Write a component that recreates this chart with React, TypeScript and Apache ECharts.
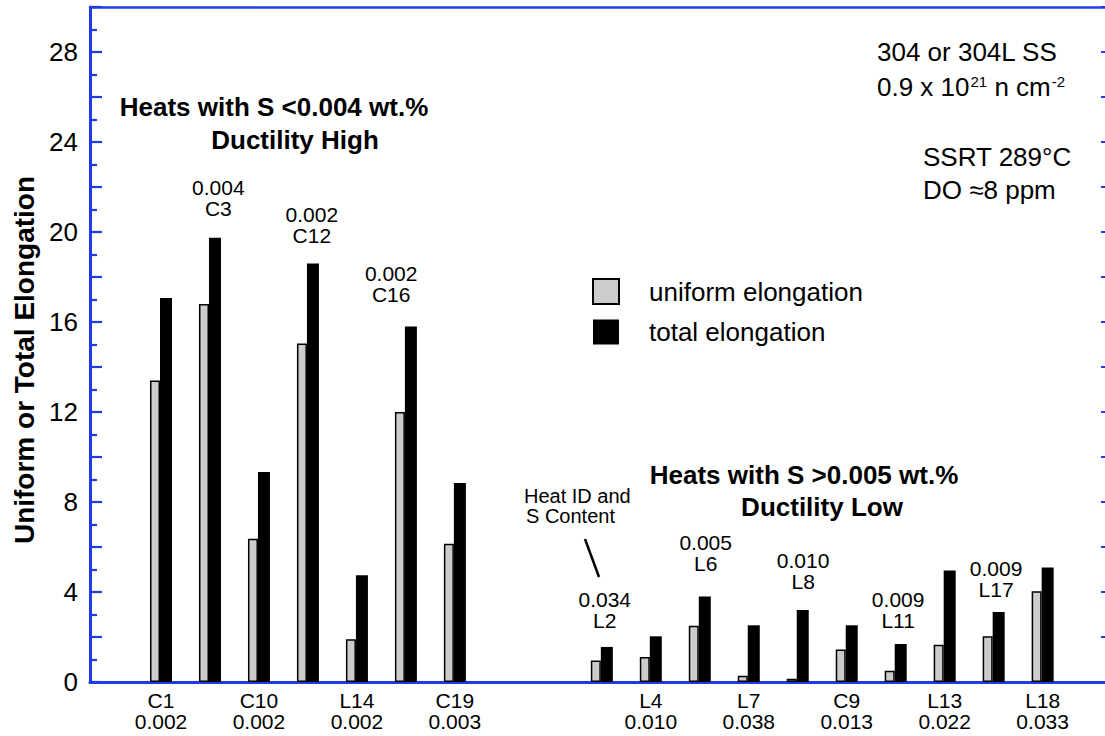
import React, { useEffect, useRef } from 'react';
import * as echarts from 'echarts';

const FONT = '"Liberation Sans", Arial, Helvetica, sans-serif';
const BLUE = '#1e3ce6';

// heat IDs, their slot along the x axis, S content (wt.%)
const heats = ['C1', 'C3', 'C10', 'C12', 'L14', 'C16', 'C19', 'L2', 'L4', 'L6', 'L7', 'L8', 'C9', 'L11', 'L13', 'L17', 'L18'];
const slots = [0, 1, 2, 3, 4, 5, 6, 9, 10, 11, 12, 13, 14, 15, 16, 17, 18];
const sulfur = ['0.002', '0.004', '0.002', '0.002', '0.002', '0.002', '0.003', '0.034', '0.010', '0.005', '0.038', '0.010', '0.013', '0.009', '0.022', '0.009', '0.033'];

// elongation values (%)
const uniformElong = [13.4, 16.8, 6.37, 15.05, 1.9, 12.0, 6.15, 0.96, 1.11, 2.5, 0.28, 0.15, 1.44, 0.5, 1.66, 2.03, 4.03];
const totalElong = [17.07, 19.75, 9.33, 18.6, 4.75, 15.8, 8.85, 1.56, 2.03, 3.8, 2.52, 3.2, 2.52, 1.69, 4.96, 3.11, 5.09];

// heats labelled under the axis, and heats labelled above their bars
const axisLabelHeats = ['C1', 'C10', 'L14', 'C19', 'L4', 'L7', 'C9', 'L13', 'L18'];
const annotHeats = ['C3', 'C12', 'C16', 'L2', 'L6', 'L8', 'L11', 'L17'];
const annotLevels = [21.5, 20.3, 17.7, 3.2, 5.75, 4.93, 3.2, 4.58];
const annotShift = [0.17, 0.08, -0.3, 0.06, 0.12, 0.11, 0.05, 0.05];

const Y_MIN = 0;
const Y_MAX = 30;
const X_MIN = -1.4496;
const X_MAX = 19.273;

export default function App() {
  const ref = useRef<HTMLDivElement>(null);

  useEffect(() => {
    if (!ref.current) return;
    const chart = echarts.init(ref.current, undefined, { renderer: 'svg' });

    const labelValues = axisLabelHeats.map((h) => slots[heats.indexOf(h)]);

    const option: any = {
      animation: false,
      backgroundColor: '#ffffff',
      textStyle: { fontFamily: FONT },
      grid: { left: 90, right: 0, top: 7, bottom: 54, containLabel: false, outerBoundsMode: 'none' },
      legend: {
        orient: 'vertical',
        left: 592,
        top: 278,
        padding: 0,
        itemWidth: 26,
        itemHeight: 25,
        itemGap: 14,
        icon: 'rect',
        selectedMode: false,
        textStyle: { fontSize: 26, fontFamily: FONT, color: '#000', padding: [0, 0, 0, 25] },
        data: [
          { name: 'uniform elongation', itemStyle: { color: '#cccccc', borderColor: '#000', borderWidth: 2 } },
          { name: 'total elongation', itemStyle: { color: '#000', borderWidth: 0 } },
        ],
      },
      xAxis: [
        {
          type: 'value',
          min: X_MIN,
          max: X_MAX,
          axisLine: { show: true, onZero: false, lineStyle: { color: BLUE, width: 3 } },
          axisTick: { show: false },
          splitLine: { show: false },
          axisLabel: {
            customValues: labelValues,
            margin: 8,
            fontSize: 21,
            lineHeight: 21,
            color: '#000',
            fontFamily: FONT,
            formatter: (v: number) => {
              const i = slots.indexOf(Math.round(v));
              return i >= 0 ? `${heats[i]}\n${sulfur[i]}` : '';
            },
          },
        },
        {
          type: 'value',
          position: 'top',
          min: X_MIN,
          max: X_MAX,
          axisLine: { show: true, onZero: false, lineStyle: { color: BLUE, width: 2.5 } },
          axisTick: { show: false },
          axisLabel: { show: false },
          splitLine: { show: false },
        },
      ],
      yAxis: [
        {
          type: 'value',
          position: 'left',
          min: Y_MIN,
          max: Y_MAX,
          interval: 2,
          axisLine: { show: true, onZero: false, lineStyle: { color: BLUE, width: 3 } },
          axisTick: { show: true, inside: true, length: 12, lineStyle: { color: BLUE, width: 2.2 } },
          minorTick: { show: true, splitNumber: 2, length: 7, lineStyle: { color: BLUE, width: 2.2 } },
          splitLine: { show: false },
          minorSplitLine: { show: false },
          axisLabel: {
            margin: 12,
            fontSize: 26,
            color: '#000',
            fontFamily: FONT,
            formatter: (v: number) => (v % 4 === 0 ? String(v) : ''),
          },
        },
        {
          type: 'value',
          position: 'right',
          min: Y_MIN,
          max: Y_MAX,
          interval: 2,
          axisLine: { show: false, onZero: false },
          axisTick: { show: true, inside: true, length: 4, lineStyle: { color: BLUE, width: 2 } },
          axisLabel: { show: false },
          splitLine: { show: false },
        },
      ],
      series: [
        {
          name: 'uniform elongation',
          type: 'bar',
          barWidth: 10,
          barGap: '0%',
          itemStyle: { color: '#cccccc', borderColor: '#000', borderWidth: 1.5 },
          data: slots.map((s, i) => [s, uniformElong[i]]),
        },
        {
          name: 'total elongation',
          type: 'bar',
          barWidth: 12,
          barGap: '0%',
          itemStyle: { color: '#000' },
          data: slots.map((s, i) => [s, totalElong[i]]),
        },
        {
          name: 'heat annotations',
          type: 'scatter',
          symbolSize: 0,
          silent: true,
          z: 5,
          itemStyle: { color: 'rgba(0,0,0,0)', opacity: 1 },
          label: {
            show: true,
            position: 'inside',
            fontSize: 21,
            lineHeight: 21,
            color: '#000',
            opacity: 1,
            fontFamily: FONT,
          },
          data: annotHeats.map((h, k) => {
            const i = heats.indexOf(h);
            return {
              name: h,
              value: [slots[i] + annotShift[k], annotLevels[k]],
              label: { formatter: `${sulfur[i]}\n${h}` },
            };
          }),
        },
      ],
      graphic: [
        {
          type: 'text',
          x: 24,
          y: 360,
          rotation: Math.PI / 2,
          style: {
            text: 'Uniform or Total Elongation',
            fontSize: 28,
            fontWeight: 'bold',
            fontFamily: FONT,
            fill: '#000',
            textAlign: 'center',
            textVerticalAlign: 'middle',
          },
        },
        {
          type: 'text',
          x: 274,
          y: 107,
          style: { text: 'Heats with S <0.004 wt.%', fontSize: 26, fontWeight: 'bold', fontFamily: FONT, fill: '#000', textAlign: 'center', textVerticalAlign: 'middle' },
        },
        {
          type: 'text',
          x: 295,
          y: 140,
          style: { text: 'Ductility High', fontSize: 26, fontWeight: 'bold', fontFamily: FONT, fill: '#000', textAlign: 'center', textVerticalAlign: 'middle' },
        },
        {
          type: 'text',
          x: 804,
          y: 475,
          style: { text: 'Heats with S >0.005 wt.%', fontSize: 26, fontWeight: 'bold', fontFamily: FONT, fill: '#000', textAlign: 'center', textVerticalAlign: 'middle' },
        },
        {
          type: 'text',
          x: 822,
          y: 507,
          style: { text: 'Ductility Low', fontSize: 26, fontWeight: 'bold', fontFamily: FONT, fill: '#000', textAlign: 'center', textVerticalAlign: 'middle' },
        },
        {
          type: 'text',
          x: 524,
          y: 496,
          style: { text: 'Heat ID and', fontSize: 20, fontFamily: FONT, fill: '#000', textAlign: 'left', textVerticalAlign: 'middle' },
        },
        {
          type: 'text',
          x: 526,
          y: 516,
          style: { text: 'S Content', fontSize: 20, fontFamily: FONT, fill: '#000', textAlign: 'left', textVerticalAlign: 'middle' },
        },
        {
          type: 'line',
          shape: { x1: 585, y1: 539, x2: 599, y2: 577 },
          style: { stroke: '#000', lineWidth: 2.5 },
        },
        {
          type: 'text',
          x: 877,
          y: 52,
          style: { text: '304 or 304L SS', fontSize: 26, fontFamily: FONT, fill: '#000', textAlign: 'left', textVerticalAlign: 'middle' },
        },
        {
          type: 'text',
          x: 877,
          y: 74,
          style: {
            text: '{b|0.9 x 10}{s|21}{b| n cm}{s|-2}',
            fontFamily: FONT,
            fill: '#000',
            textAlign: 'left',
            textVerticalAlign: 'top',
            rich: {
              b: { fontSize: 26, lineHeight: 26, fontFamily: FONT, fill: '#000', verticalAlign: 'bottom' },
              s: { fontSize: 15, lineHeight: 15, fontFamily: FONT, fill: '#000', verticalAlign: 'top', padding: [0, 0, 21, 1] },
            },
          },
        },
        {
          type: 'text',
          x: 923,
          y: 157,
          style: { text: 'SSRT 289°C', fontSize: 26, fontFamily: FONT, fill: '#000', textAlign: 'left', textVerticalAlign: 'middle' },
        },
        {
          type: 'text',
          x: 923,
          y: 190,
          style: { text: 'DO ≈8 ppm', fontSize: 26, fontFamily: FONT, fill: '#000', textAlign: 'left', textVerticalAlign: 'middle' },
        },
      ],
    };

    chart.setOption(option);
    return () => chart.dispose();
  }, []);

  return (
    <div
      ref={ref}
      style={{ position: 'fixed', left: 0, top: 0, width: 1105, height: 736, background: '#fff' }}
    />
  );
}
